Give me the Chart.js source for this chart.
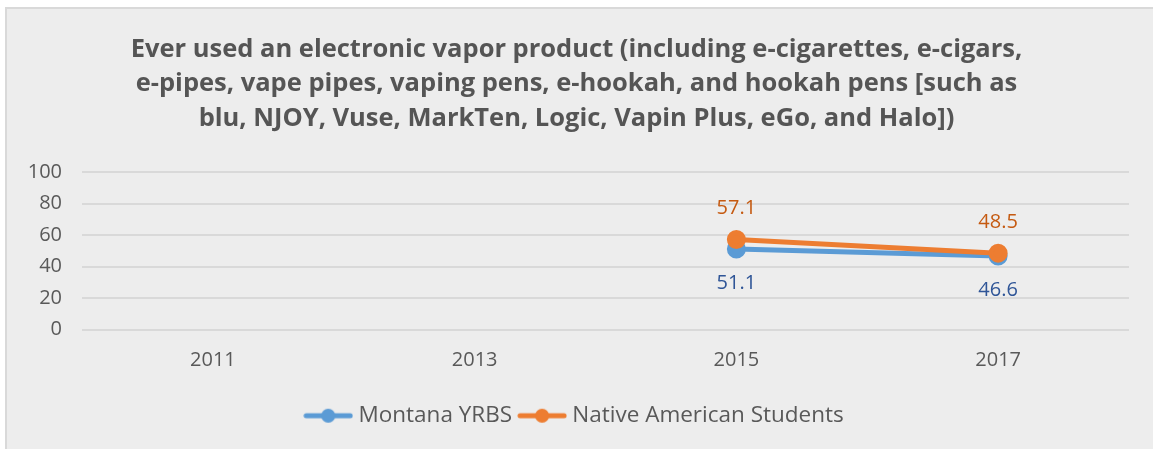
<!DOCTYPE html>
<html>
<head>
<meta charset="utf-8">
<script src="https://cdn.jsdelivr.net/npm/chart.js@4"></script>
<style>
  body { margin: 0; background: #ffffff; }
  #frame { position: absolute; left: 5px; top: 7px; width: 1160px; height: 460px;
           background: #ededed; border-left: 2px solid #d9d9d9; border-top: 2px solid #d9d9d9; }
  #c { position: absolute; left: 0; top: 0; }
</style>
</head>
<body>
<div id="frame"></div>
<canvas id="c" width="1153" height="449"></canvas>
<script>
/* ===== dados ===== */
const years = ['2011', '2013', '2015', '2017'];
const montana = [null, null, 51.1, 46.6];
const nativeAm = [null, null, 57.1, 48.5];
const yTicks = [0, 20, 40, 60, 80, 100];
const seriesNames = ['Montana YRBS', 'Native American Students'];

const lineColors = ['#5b9bd5', '#ed7d31'];
const labelColors = ['#2f5597', '#c55a11'];
const txt = '#595959';

/* icone da legenda: linha com bolinha */
function legendIcon(color) {
  const c = document.createElement('canvas');
  c.width = 50; c.height = 16;
  const g = c.getContext('2d');
  g.strokeStyle = color; g.lineWidth = 5; g.lineCap = 'round';
  g.beginPath(); g.moveTo(3, 8); g.lineTo(47, 8); g.stroke();
  g.fillStyle = color;
  g.beginPath(); g.arc(25, 8, 7, 0, Math.PI * 2); g.fill();
  return c;
}

/* rotulos dos valores: laranja em cima, azul em baixo */
const valueLabels = {
  id: 'valueLabels',
  afterDatasetsDraw(chart) {
    const ctx = chart.ctx;
    ctx.save();
    ctx.font = '20px "Open Sans"';
    ctx.textAlign = 'center';
    ctx.textBaseline = 'middle';
    chart.data.datasets.forEach((ds, i) => {
      const meta = chart.getDatasetMeta(i);
      meta.data.forEach((pt, j) => {
        const v = ds.data[j];
        if (v === null) return;
        ctx.fillStyle = labelColors[i];
        const dy = i === 1 ? -31 : 34;
        ctx.fillText(v.toFixed(1), pt.x, pt.y + dy);
      });
    });
    ctx.restore();
  }
};

new Chart(document.getElementById('c'), {
  type: 'line',
  data: {
    labels: years,
    datasets: [{
      label: seriesNames[0],
      data: montana,
      borderColor: lineColors[0],
      backgroundColor: lineColors[0],
      borderWidth: 5,
      pointRadius: 7,
      pointHoverRadius: 7,
      order: 2
    }, {
      label: seriesNames[1],
      data: nativeAm,
      borderColor: lineColors[1],
      backgroundColor: lineColors[1],
      borderWidth: 5,
      pointRadius: 7,
      pointHoverRadius: 7,
      order: 1
    }]
  },
  options: {
    responsive: false,
    animation: false,
    layout: { padding: { left: 24, right: 24, top: 0, bottom: 12 } },
    scales: {
      x: {
        offset: true,
        grid: { display: false },
        border: { display: false },
        ticks: { color: txt, font: { family: 'Open Sans', size: 20 }, padding: 11 },
        afterFit(s) { s.height = 64; }
      },
      y: {
        min: 0, max: 100,
        afterBuildTicks(s) { s.ticks = yTicks.map(v => ({ value: v })); },
        grid: { color: '#d9d9d9', lineWidth: 2, drawTicks: false },
        border: { display: false },
        ticks: { color: txt, font: { family: 'Open Sans', size: 20 }, padding: 20 },
        afterFit(s) { s.width = 58; }
      }
    },
    plugins: {
      title: {
        display: true,
        text: [
          'Ever used an electronic vapor product (including e-cigarettes, e-cigars,',
          'e-pipes, vape pipes, vaping pens, e-hookah, and hookah pens [such as',
          'blu, NJOY, Vuse, MarkTen, Logic, Vapin Plus, eGo, and Halo])'
        ],
        color: '#555555',
        font: { family: 'Open Sans', size: 25.5, weight: 'bold', lineHeight: 1.36 },
        padding: { top: 32, bottom: 36 }
      },
      legend: {
        position: 'bottom',
        labels: {
          usePointStyle: true,
          pointStyleWidth: 38,
          padding: 11,
          color: txt,
          font: { family: 'Open Sans', size: 22.5 },
          generateLabels(chart) {
            return seriesNames.map((n, i) => ({
              text: n,
              pointStyle: legendIcon(lineColors[i]),
              fillStyle: lineColors[i],
              strokeStyle: lineColors[i],
              lineWidth: 0,
              fontColor: txt,
              datasetIndex: i,
              hidden: false
            }));
          }
        }
      },
      tooltip: { enabled: false }
    }
  },
  plugins: [valueLabels]
});
</script>
</body>
</html>
